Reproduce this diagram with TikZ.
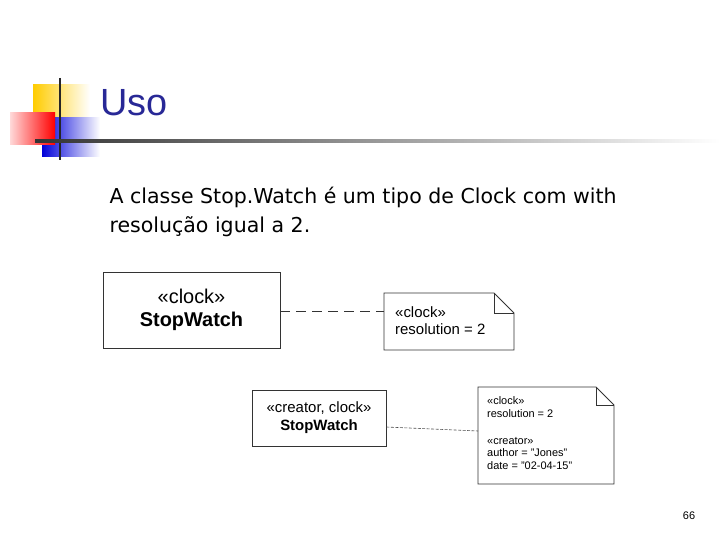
\documentclass[tikz,border=0pt]{standalone}
\usepackage{fontspec}
\setmainfont{Liberation Sans}
\newfontfamily\widefont{DejaVu Sans}
\usetikzlibrary{positioning,calc}
\definecolor{titleblue}{RGB}{40,40,150}
\definecolor{logoyellow}{RGB}{255,204,0}
\tikzset{
  umlbox/.style={draw=black!80,line width=0.8pt,align=center,inner sep=0pt},
  notetext/.style={align=left,anchor=north west,inner sep=0pt}
}
\begin{document}
\begin{tikzpicture}[x=1bp,y=-1bp]
\useasboundingbox (0,0) rectangle (720,540);
% logo
\fill [left color=logoyellow,right color=white] (33,85) rectangle (90,125);
\fill [left color=blue!85!black,right color=white] (42,118) rectangle (100,157);
\fill [left color=red!15,right color=red] (10,113) rectangle (55,145);
\draw [line width=2pt,black!85] (60,78) -- (60,160);
\shade [left color=black!80,right color=white] (35,140) rectangle (720,142.5);
\node [anchor=west,text=titleblue,font=\fontsize{38}{40}\selectfont] (title) at (97,103) {Uso};
% text
\node [anchor=north west,align=left,font=\widefont\fontsize{20.6}{29}\selectfont] (intro) at (106,184)
  {A classe Stop.Watch é um tipo de Clock com with\\resolução igual a 2.};
% first diagram
\node [umlbox,minimum width=177bp,minimum height=76bp,font=\fontsize{20}{23}\selectfont]
  (sw) at (191.5,310) {«clock»\\\textbf{StopWatch}};
\draw [line width=0.8pt,black!80] (384,293) -- (494,293) -- (514,313) -- (514,350) -- (384,350) -- cycle;
\draw [line width=0.6pt,black!80] (494,293) -- (494,313) -- (514,313);
\coordinate (n1) at (384,311);
\node [notetext,font=\fontsize{15}{18}\selectfont] (n1t) at (395,306) {«clock»\\resolution = 2};
\draw [dashed,dash pattern=on 10pt off 6pt,line width=0.8pt,black!80] (sw.east|-n1) -- (n1);
% second diagram
\node [umlbox,minimum width=134bp,minimum height=56bp,font=\fontsize{15}{18}\selectfont]
  (sw2) at (319,418) {«creator, clock»\\\textbf{StopWatch}};
\draw [line width=0.8pt,black!80] (478,387) -- (596,387) -- (614,405) -- (614,484) -- (478,484) -- cycle;
\draw [line width=0.6pt,black!80] (596,387) -- (596,405) -- (614,405);
\coordinate (n2) at (478,431);
\node [notetext,font=\fontsize{11}{13}\selectfont] (n2t) at (487,396)
  {«clock»\\resolution = 2\\[14bp]«creator»\\author = "Jones"\\date = "02-04-15"};
\draw [dashed,dash pattern=on 3pt off 1.5pt,line width=0.6pt,black!70] ($(sw2.east)+(0,9)$) -- (n2);
% page number
\node [font=\fontsize{11}{13}\selectfont] (page) at (689,516) {66};
\end{tikzpicture}
\end{document}
